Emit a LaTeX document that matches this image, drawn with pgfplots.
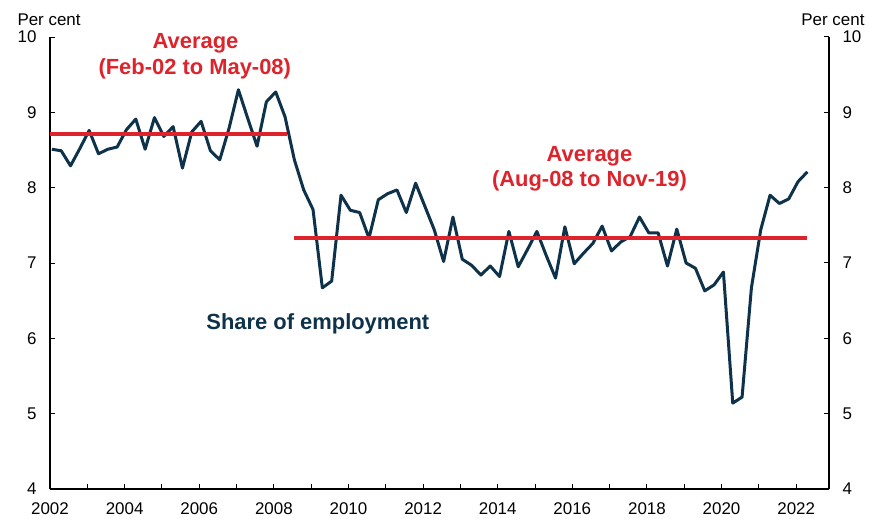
\documentclass[border=0pt]{standalone}
\usepackage{pgfplots}
\usepackage{pgfplotstable}
\pgfplotsset{compat=1.18}
\usepackage{fontspec}
\setmainfont{Liberation Sans}
\definecolor{navy}{RGB}{14,50,74}
\definecolor{avred}{RGB}{221,35,43}

\pgfplotstableread{
x y
2002.05 8.51
2002.30 8.49
2002.55 8.29
2002.80 8.52
2003.05 8.76
2003.30 8.45
2003.55 8.51
2003.80 8.54
2004.05 8.77
2004.30 8.91
2004.55 8.51
2004.80 8.93
2005.05 8.68
2005.30 8.81
2005.55 8.26
2005.80 8.74
2006.05 8.88
2006.30 8.49
2006.55 8.37
2006.80 8.79
2007.05 9.30
2007.30 8.92
2007.55 8.55
2007.80 9.14
2008.05 9.27
2008.30 8.94
2008.55 8.37
2008.80 7.97
2009.05 7.71
2009.30 6.67
2009.55 6.76
2009.80 7.90
2010.05 7.70
2010.30 7.67
2010.55 7.33
2010.80 7.84
2011.05 7.92
2011.30 7.97
2011.55 7.67
2011.80 8.06
2012.05 7.75
2012.30 7.44
2012.55 7.02
2012.80 7.61
2013.05 7.05
2013.30 6.97
2013.55 6.84
2013.80 6.96
2014.05 6.82
2014.30 7.42
2014.55 6.95
2014.80 7.18
2015.05 7.42
2015.30 7.10
2015.55 6.80
2015.80 7.48
2016.05 6.99
2016.30 7.13
2016.55 7.26
2016.80 7.49
2017.05 7.16
2017.30 7.28
2017.55 7.35
2017.80 7.61
2018.05 7.40
2018.30 7.40
2018.55 6.96
2018.80 7.45
2019.05 7.00
2019.30 6.93
2019.55 6.63
2019.80 6.71
2020.05 6.88
2020.30 5.14
2020.55 5.22
2020.80 6.67
2021.05 7.44
2021.30 7.90
2021.55 7.79
2021.80 7.85
2022.05 8.08
2022.30 8.21
}\share

\begin{document}
\begin{tikzpicture}
\path[use as bounding box] (-50bp,-30bp) rectangle (819bp,489bp);
\pgfplotsset{
  common/.style={
    at={(0,0)}, anchor=south west, scale only axis,
    width=779bp, height=452bp,
    xmin=2002, xmax=2022.88, ymin=4, ymax=10,
    ytick={4,...,10},
    tick align=inside,
    major tick length=5bp, minor tick length=5bp,
    tick style={black, line width=1bp},
    axis line style={black, line width=1.3bp, -},
    tick label style={font=\fontsize{17}{17}\selectfont},
    /pgf/number format/assume math mode=true,
    x tick label style={/pgf/number format/1000 sep=},
  }
}
\begin{axis}[common,
  axis x line*=bottom, axis y line*=left,
  xtick={2002,2004,...,2022}, minor xtick={2003,2005,...,2021},
  xticklabel style={yshift=-10bp},
  yticklabel style={xshift=-10bp},
  clip=false,
]
\addplot[navy, line width=3bp, line join=round] table {\share};
\addplot[avred, line width=3.5bp] coordinates {(2002,8.71) (2008.35,8.71)};
\addplot[avred, line width=3.5bp] coordinates {(2008.53,7.335) (2022.3,7.335)};
\node[avred, font=\bfseries\fontsize{22}{22}\selectfont] at (axis cs:2005.9,9.92) {Average};
\node[avred, font=\bfseries\fontsize{22}{22}\selectfont] at (axis cs:2005.88,9.58) {(Feb-02 to May-08)};
\node[avred, font=\bfseries\fontsize{22}{22}\selectfont] at (axis cs:2016.46,8.42) {Average};
\node[avred, font=\bfseries\fontsize{22}{22}\selectfont] at (axis cs:2016.46,8.09) {(Aug-08 to Nov-19)};
\node[navy, font=\bfseries\fontsize{22}{22}\selectfont] at (axis cs:2009.18,6.19) {Share of employment};
\end{axis}
\begin{axis}[common,
  axis x line=none, axis y line*=right,
  yticklabel style={xshift=10bp},
]
\addplot[draw=none] coordinates {(2002,4)};
\end{axis}
\node[anchor=base west, font=\fontsize{17}{17}\selectfont] at (-36bp,463bp) {Per cent};
\node[anchor=base east, font=\fontsize{17}{17}\selectfont] at (818bp,463bp) {Per cent};
\end{tikzpicture}
\end{document}
